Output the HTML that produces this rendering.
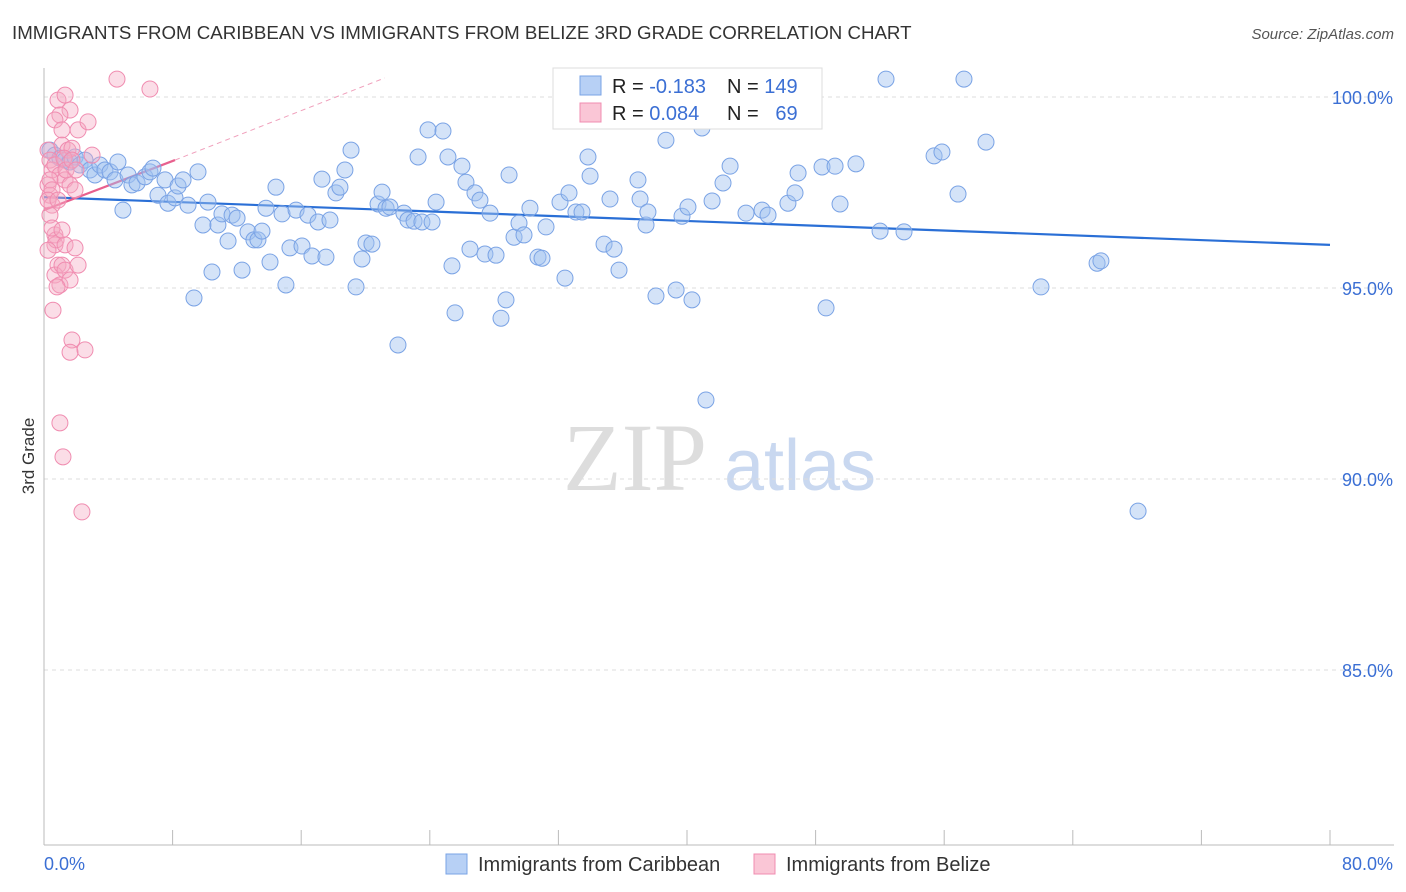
<!DOCTYPE html>
<html><head><meta charset="utf-8">
<style>
body{margin:0;background:#fff;font-family:"Liberation Sans",sans-serif;}
svg{display:block}
</style></head>
<body>
<svg id="chart" width="1406" height="892">
<text x="12" y="39" font-size="18.7" fill="#333">IMMIGRANTS FROM CARIBBEAN VS IMMIGRANTS FROM BELIZE 3RD GRADE CORRELATION CHART</text>
<text x="1394" y="39" font-size="15" fill="#555" font-style="italic" text-anchor="end">Source: ZipAtlas.com</text>
<text x="34" y="456" font-size="17" fill="#333" text-anchor="middle" transform="rotate(-90 34 456)">3rd Grade</text>
<g>
<text x="635" y="490" font-size="96" fill="#ddd" text-anchor="middle" font-family="Liberation Serif,serif">ZIP</text>
<text x="800" y="490" font-size="72" fill="#c9d8f0" text-anchor="middle">atlas</text>
</g>
<g id="grid"></g>
<g id="axes"></g>
<g id="trends"></g>
<g id="points"></g>
<g>
<rect x="553" y="68" width="269" height="61" fill="#fff" stroke="#ddd"/>
<rect x="580" y="76" width="21" height="19" fill="#b7d0f5" stroke="#7aa3e5"/>
<rect x="580" y="103" width="21" height="19" fill="#fac6d6" stroke="#f08cb0"/>
<text x="612" y="93" font-size="20" fill="#222">R = <tspan fill="#3b6fd4">-0.183</tspan></text>
<text x="727" y="93" font-size="20" fill="#222">N = <tspan fill="#3b6fd4">149</tspan></text>
<text x="612" y="120" font-size="20" fill="#222">R = <tspan fill="#3b6fd4">0.084</tspan></text>
<text x="727" y="120" font-size="20" fill="#222">N = <tspan fill="#3b6fd4">&#160; 69</tspan></text>
</g>
<g>
<rect x="446" y="854" width="21" height="20" fill="#b7d0f5" stroke="#7aa3e5"/>
<text x="478" y="871" font-size="20" fill="#333">Immigrants from Caribbean</text>
<rect x="754" y="854" width="21" height="20" fill="#fac6d6" stroke="#f08cb0"/>
<text x="786" y="871" font-size="20" fill="#333">Immigrants from Belize</text>
</g>
</svg>
<script>
const blueX=[0.37,0.68,0.99,1.31,1.62,1.93,2.24,2.55,2.86,3.17,3.48,3.79,4.11,4.42,4.60,4.91,5.23,5.47,5.79,6.28,6.59,6.78,7.09,7.53,7.71,8.15,8.34,8.65,8.96,9.33,9.58,9.89,10.20,10.45,10.82,11.07,11.45,11.70,12.01,12.32,12.69,13.06,13.31,13.56,13.81,14.06,14.43,14.81,15.05,15.30,15.68,16.05,16.42,16.67,17.05,17.29,17.54,17.79,18.16,18.41,18.72,19.10,19.41,19.78,20.03,20.40,20.78,21.03,21.28,21.52,22.02,22.39,22.64,23.02,23.27,23.51,23.89,24.14,24.39,24.82,25.13,25.38,25.57,26.00,26.25,26.50,26.81,27.12,27.43,27.75,28.12,28.43,28.74,28.93,29.24,29.55,29.86,30.23,30.73,30.98,31.23,32.10,32.41,32.66,33.09,33.47,33.84,33.97,34.84,35.21,35.46,35.77,36.95,37.08,37.45,37.57,38.07,38.69,39.32,39.69,40.06,40.31,40.93,41.18,41.56,42.24,42.68,43.67,44.67,45.04,46.28,46.72,46.91,48.40,48.65,49.21,49.52,50.51,52.01,52.38,53.50,55.37,55.86,56.86,57.23,58.60,62.02,65.51,65.75,68.06];
const blueY=[98.61,98.48,98.40,98.35,98.30,98.43,98.22,98.35,98.09,97.96,98.22,98.09,98.04,97.83,98.30,97.04,97.96,97.70,97.75,97.91,98.04,98.14,97.43,97.83,97.22,97.36,97.67,97.83,97.17,94.74,98.04,96.65,97.25,95.42,96.65,96.94,96.23,96.91,96.83,95.47,96.47,96.26,96.26,96.49,97.09,95.68,97.64,96.94,95.08,96.05,97.04,96.10,96.91,95.84,96.73,97.85,95.81,96.78,97.49,97.64,98.09,98.61,95.03,95.76,96.18,96.15,97.20,97.51,97.09,97.12,93.51,96.96,96.78,96.75,98.43,96.73,99.14,96.73,97.25,99.11,98.43,95.58,94.35,98.19,97.77,96.02,97.49,97.30,95.89,96.96,95.86,94.21,94.69,97.96,96.33,96.70,96.39,97.09,95.81,95.78,96.60,97.25,95.26,97.49,96.99,96.99,98.43,97.93,96.15,97.33,96.02,95.47,97.83,97.33,96.65,96.99,94.79,98.87,94.95,96.88,97.12,94.69,99.19,92.07,97.28,97.75,98.19,96.96,97.04,96.91,97.22,97.49,98.01,98.17,94.48,98.19,97.20,98.25,96.49,100.47,96.47,98.46,98.56,97.46,100.47,98.82,95.03,95.65,95.71,89.16];
const pinkX=[0.25,0.37,0.50,0.25,0.37,0.50,0.37,0.68,0.68,0.87,0.68,0.99,0.56,1.12,1.31,1.62,1.74,1.62,2.12,2.55,0.99,1.18,2.36,4.54,6.59,0.87,1.31,1.62,0.99,0.68,1.12,2.12,2.74,1.12,1.49,1.74,2.99,0.68,0.99,1.31,1.62,1.93,0.37,0.50,0.25,0.87,1.24,1.37,1.74,1.99,0.75,1.31,1.93,0.81,0.50,0.25,1.12];
const pinkY=[98.61,98.35,98.09,97.70,97.43,97.17,96.91,96.39,96.13,95.60,95.34,95.08,94.42,95.60,95.47,95.21,93.64,93.32,95.60,93.38,91.47,90.58,89.14,100.47,100.21,99.92,100.05,99.66,99.53,99.40,99.14,99.14,99.35,98.74,98.61,98.66,98.48,98.22,97.96,97.83,97.70,97.57,97.83,97.57,97.30,97.30,98.40,98.09,98.35,98.09,96.26,96.13,96.05,95.03,96.57,95.99,96.52];
const blueTrendX=[0,80], blueTrendY=[97.38,96.13];
const pinkTrendX=[0,8.15], pinkTrendY=[97.04,98.35];
const pinkDashX=[8.15,21.2], pinkDashY=[98.35,100.5];
const yTicks=[100,95,90,85];
const yTickLabels=["100.0%","95.0%","90.0%","85.0%"];
const xTicks=[0,8,16,24,32,40,48,56,64,72,80];

const NS="http://www.w3.org/2000/svg";
const X0=44,X1=1330,XMIN=0,XMAX=80;
const YTOP=68,YBOT=845,YMAXV=100.76,YMINV=80.42;
const sx=v=>X0+(v-XMIN)/(XMAX-XMIN)*(X1-X0);
const sy=v=>YTOP+(YMAXV-v)/(YMAXV-YMINV)*(YBOT-YTOP);
function mk(tag,attrs,parent){const e=document.createElementNS(NS,tag);for(const k in attrs)e.setAttribute(k,attrs[k]);parent.appendChild(e);return e;}
const grid=document.getElementById('grid'),axes=document.getElementById('axes'),tr=document.getElementById('trends'),pts=document.getElementById('points');
yTicks.forEach((t,i)=>{
  const l=mk('line',{x1:X0,x2:1394,y1:sy(t),y2:sy(t),stroke:'#ddd','stroke-dasharray':'4 4'},grid);
  
  
  const tx=mk('text',{x:1393,y:sy(t)+7,'font-size':18,fill:'#3b6fd4','text-anchor':'end'},axes);
  tx.textContent=yTickLabels[i];
  
  
});
const ya=mk('line',{x1:X0,x2:X0,y1:YTOP,y2:YBOT,stroke:'#bbb'},axes);


const xa=mk('line',{x1:X0,x2:1394,y1:YBOT,y2:YBOT,stroke:'#bbb'},axes);


xTicks.forEach(t=>{
  const l=mk('line',{x1:sx(t),x2:sx(t),y1:YBOT-15,y2:YBOT,stroke:'#bbb'},axes);
  
  
});
const xl0=mk('text',{x:44,y:870,'font-size':18,fill:'#3b6fd4'},axes);xl0.textContent=XMIN.toFixed(1)+'%';


const xl1=mk('text',{x:1393,y:870,'font-size':18,fill:'#3b6fd4','text-anchor':'end'},axes);xl1.textContent=XMAX.toFixed(1)+'%';



blueX.forEach((v,i)=>{
  const c=mk('circle',{cx:sx(v),cy:sy(blueY[i]),r:8,fill:'rgba(160,192,240,0.45)',stroke:'#7aa3e5','stroke-width':1},pts);
  
  
});
pinkX.forEach((v,i)=>{
  const c=mk('circle',{cx:sx(v),cy:sy(pinkY[i]),r:8,fill:'rgba(245,170,195,0.4)',stroke:'#f08cb0','stroke-width':1},pts);
  
  
});
const bt=mk('line',{x1:sx(blueTrendX[0]),y1:sy(blueTrendY[0]),x2:sx(blueTrendX[1]),y2:sy(blueTrendY[1]),stroke:'#2a6fd6','stroke-width':2.2},tr);


const pd=mk('line',{x1:sx(pinkDashX[0]),y1:sy(pinkDashY[0]),x2:sx(pinkDashX[1]),y2:sy(pinkDashY[1]),stroke:'#f0a0bc','stroke-width':1,'stroke-dasharray':'5 4'},tr);


const pt=mk('line',{x1:sx(pinkTrendX[0]),y1:sy(pinkTrendY[0]),x2:sx(pinkTrendX[1]),y2:sy(pinkTrendY[1]),stroke:'#e8608e','stroke-width':2.2},tr);


</script>
</body></html>
